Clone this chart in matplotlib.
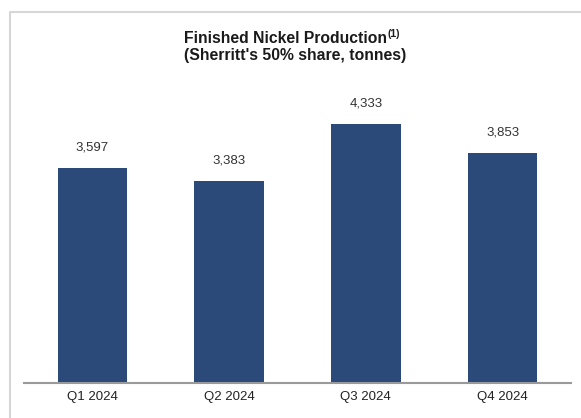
import matplotlib
matplotlib.use("Agg")
import matplotlib.pyplot as plt
from matplotlib.lines import Line2D

quarters = ["Q1 2024", "Q2 2024", "Q3 2024", "Q4 2024"]
nickel_tonnes = [3597, 3383, 4333, 3853]

plt.rcParams["font.family"] = ["Liberation Sans", "DejaVu Sans"]

W, H = 581, 418
fig = plt.figure(figsize=(W / 100, H / 100), dpi=100)
ax = fig.add_axes([24 / W, 1 - 383 / H, 547 / W, 299 / H])

bars = ax.bar(quarters, nickel_tonnes, width=0.51, color="#2B4A79", zorder=2)
for bar, val in zip(bars, nickel_tonnes):
    ax.annotate("{:,}".format(val),
                (bar.get_x() + bar.get_width() / 2, bar.get_height()),
                xytext=(0, 10.5), textcoords="offset points",
                ha="center", va="bottom", fontsize=9.5, color="#333333")

ax.set_xlim(-0.5, 3.5)
ax.set_ylim(0, 5000)
for side in ["top", "right", "left"]:
    ax.spines[side].set_visible(False)
ax.spines["bottom"].set_color("#9A9A9A")
ax.spines["bottom"].set_linewidth(1.5)
ax.set_yticks([])
ax.tick_params(axis="x", length=0, pad=6, labelsize=9.5, labelcolor="#222222")

# title, left aligned lines, superscript footnote marker after line 1
title_kw = dict(fontsize=11.3, fontweight="bold", color="#1a1a1a")
t1 = fig.text(184 / W, 1 - 43 / H, "Finished Nickel Production", ha="left",
              va="baseline", **title_kw)
fig.text(184 / W, 1 - 60 / H, "(Sherritt's 50% share, tonnes)", ha="left",
         va="baseline", **title_kw)
renderer = fig.canvas.get_renderer()
bb = t1.get_window_extent(renderer)
fig.text(bb.x1 / W + 1 / W, 1 - 37 / H, "(1)", ha="left", va="baseline",
         fontsize=7.5, fontweight="bold", color="#1a1a1a")

# light frame around the chart
fig.add_artist(Line2D([10 / W, 10 / W, 1.0], [0.0, 1 - 12 / H, 1 - 12 / H],
                      transform=fig.transFigure, color="#D6D6D6", lw=1.5))

fig.savefig("out.png", dpi=100)
